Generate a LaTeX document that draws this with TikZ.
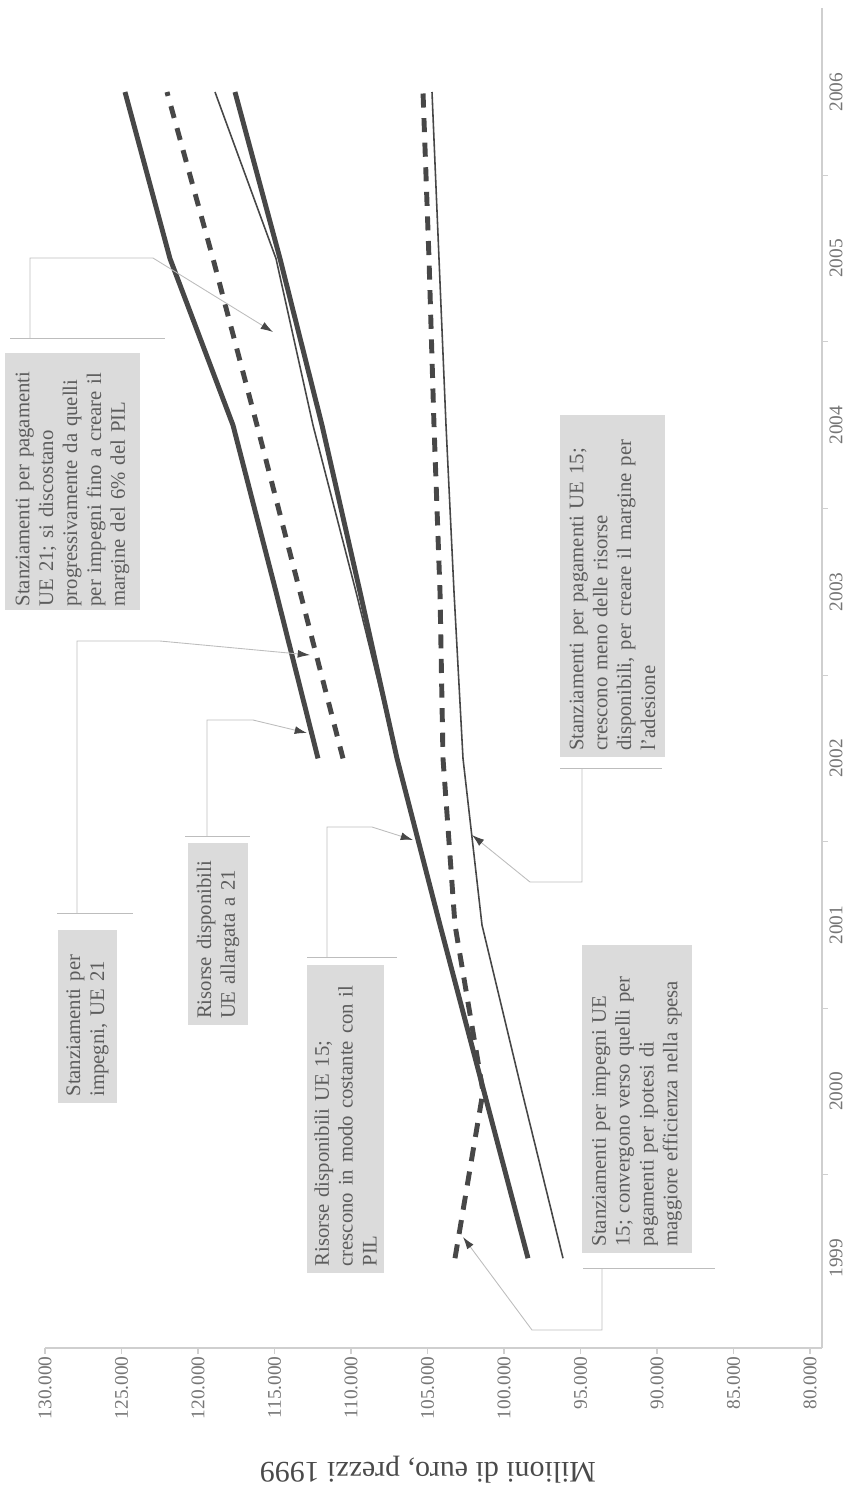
\documentclass[tikz,border=0pt]{standalone}
\usepackage{fontspec}
\setmainfont{Liberation Serif}
\usetikzlibrary{arrows.meta}
\definecolor{linegray}{HTML}{474747}
\definecolor{boxgray}{HTML}{DBDBDB}
\definecolor{txtgray}{HTML}{5C5C5C}
\definecolor{axisgray}{HTML}{CFCFCF}
\definecolor{leadgray}{HTML}{BDBDBD}

\begin{document}
\begin{tikzpicture}
	[x=0.02cm, y=-0.02cm,
	 res/.style={draw=linegray, line width=2.8pt, line join=round},
	 pay/.style={draw=linegray, line width=0.9pt, line join=round},
	 com/.style={draw=linegray, line width=2.8pt, dash pattern=on 7pt off 6pt},
	 note/.style={fill=boxgray, text=txtgray, rotate=90, align=left, inner sep=0pt,
	   font=\fontsize{11.8}{13.6}\selectfont},
	 lead/.style={draw=leadgray, line width=0.5pt},
	 tip/.style={lead, -{Latex[length=7pt,width=4.5pt,color=linegray]}},
	 axis/.style={draw=axisgray, line width=0.6pt},
	 lab/.style={text=txtgray!85, rotate=90, inner sep=0pt}]
	\useasboundingbox (0,0) rectangle (857,1499);

	% axes
	\draw [axis] (45,1348) -- (822,1348);
	\draw [axis] (822,8) -- (822,1348);
	\foreach \v [count=\k from 0] in {130.000,125.000,120.000,115.000,110.000,105.000,100.000,95.000,90.000,85.000,80.000}
	{
		\draw [axis] ({45+76.5*\k},1348) -- ++(0,6);
		\node [lab, anchor=east, font=\fontsize{11}{13}\selectfont] (v\k) at ({45+76.5*\k},1356) {\v};
	}
	\foreach \k in {1,...,7}
	\draw [axis] (822,{8.7+166.6*\k}) -- ++(6,0);
	\foreach \yr [count=\k from 0] in {2006,2005,...,1999}
	\node [lab, font=\fontsize{11}{13}\selectfont] (y\yr) at (836,{92+166.6*\k}) {\yr};
	\node [rotate=180, text=txtgray!80!black, font=\fontsize{17}{20}\selectfont] (ytitle) at (428,1470) {Milioni di euro, prezzi 1999};

	% series
	\draw [res] plot coordinates {(528,1258.2) (484,1091.6) (440,925) (397,758.4) (360,591.8) (322,425.2) (280,258.6) (235,92)};
	\draw [pay] plot coordinates {(563,1258.2) (522,1091.6) (482,925) (463,758.4) (454,591.8) (446,425.2) (439,258.6) (432,92)};
	\draw [com, dash pattern=on 8pt off 6pt] plot coordinates {(455,1258.2) (483,1091.6) (455,925) (443,758.4) (440,591.8) (434,425.2) (429,258.6) (423,92)};
	\draw [res] plot coordinates {(318,758.4) (276,591.8) (233,425.2) (170,258.6) (125,92)};
	\draw [com] plot coordinates {(343,758.4) (300,591.8) (257,425.2) (213,258.6) (167,92)};
	\draw [pay] plot coordinates {(397,758.4) (356,591.8) (313,425.2) (276,258.6) (215,92)};

	% notes
	\node [note, minimum width=5.14cm, minimum height=2.7cm, text width=5.0cm] (pag21) at (72.5,481.5)
		{Stanziamenti per pagamenti\\UE 21; si discostano\\progressivamente da quelli\\per impegni fino a creare il\\margine del 6\% del PIL};
	\node [note, minimum width=3.46cm, minimum height=1.18cm, text width=3.2cm] (imp21) at (87.5,1016.5)
		{Stanziamenti per\\impegni, UE 21};
	\node [note, minimum width=3.64cm, minimum height=1.2cm, text width=3.4cm] (ris21) at (218,934)
		{Risorse disponibili\\UE allargata a 21};
	\node [note, minimum width=6.16cm, minimum height=1.54cm, text width=5.9cm] (ris15) at (345.5,1119)
		{Risorse disponibili UE 15;\\crescono in modo costante con il\\PIL};
	\node [note, minimum width=6.84cm, minimum height=2.1cm, text width=6.6cm] (pag15) at (612.5,586)
		{Stanziamenti per pagamenti UE 15;\\crescono meno delle risorse\\disponibili, per creare il margine per\\l'adesione};
	\node [note, minimum width=6.16cm, minimum height=2.2cm, text width=5.9cm] (imp15) at (637,1099)
		{Stanziamenti per impegni UE\\15; convergono verso quelli per\\pagamenti per ipotesi di\\maggiore efficienza nella spesa};

	% callouts
	\coordinate (pag21a) at (30,338);   \coordinate (pag21b) at (153,258);  \coordinate (pag21t) at (273,332);
	\coordinate (imp21a) at (77,913);   \coordinate (imp21b) at (160,641);  \coordinate (imp21t) at (310,655);
	\coordinate (ris21a) at (207,836);  \coordinate (ris21b) at (253,720);  \coordinate (ris21t) at (307,733);
	\coordinate (ris15a) at (327,957);  \coordinate (ris15b) at (372,827);  \coordinate (ris15t) at (413,840);
	\coordinate (pag15a) at (582,768);  \coordinate (pag15b) at (530,882);  \coordinate (pag15t) at (472,835);
	\coordinate (imp15a) at (602,1268); \coordinate (imp15b) at (532,1330); \coordinate (imp15t) at (463,1237);

	\draw [lead] (10,338) -- (165,338);
	\draw [lead] (57,913) -- (133,913);
	\draw [lead] (185,836) -- (250,836);
	\draw [lead] (307,957) -- (397,957);
	\draw [lead] (560,768) -- (662,768);
	\draw [lead] (583,1268) -- (715,1268);

	\foreach \n in {pag21,imp21,ris21,ris15,pag15,imp15}
	\draw [tip] (\n a) |- (\n b) -- (\n t);
\end{tikzpicture}
\end{document}
